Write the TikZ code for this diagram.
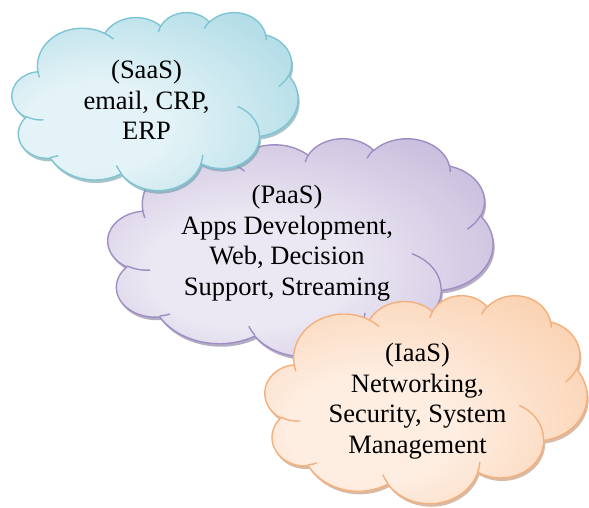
\documentclass[tikz,border=0pt]{standalone}
\usepackage{fontspec}
\setmainfont{Liberation Serif}
\usetikzlibrary{shadows}
\definecolor{saasL}{RGB}{228,243,247}
\definecolor{saasD}{RGB}{150,208,222}
\definecolor{saasO}{RGB}{126,197,212}
\definecolor{paasL}{RGB}{236,232,243}
\definecolor{paasD}{RGB}{178,162,207}
\definecolor{paasO}{RGB}{158,142,196}
\definecolor{iaasL}{RGB}{254,238,226}
\definecolor{iaasD}{RGB}{248,194,150}
\definecolor{iaasO}{RGB}{244,176,124}
\pgfdeclareradialshading{saasshade}{\pgfpoint{-12bp}{-8bp}}{color(0bp)=(saasL); color(12bp)=(saasL); color(48bp)=(saasD); color(75bp)=(saasD)}
\pgfdeclareradialshading{paasshade}{\pgfpoint{-8bp}{-6bp}}{color(0bp)=(paasL); color(12bp)=(paasL); color(48bp)=(paasD); color(75bp)=(paasD)}
\pgfdeclareradialshading{iaasshade}{\pgfpoint{-10bp}{-8bp}}{color(0bp)=(iaasL); color(12bp)=(iaasL); color(48bp)=(iaasD); color(75bp)=(iaasD)}
\tikzset{
  declare function={pa(\a,\b,\t)=atan2(\a*sin(\t),\b*cos(\t));
    pd(\a,\b,\t,\w)=pa(\a,\b,\t+\w)-pa(\a,\b,\t)+360*round((\w-pa(\a,\b,\t+\w)+pa(\a,\b,\t))/360);},
  cloudline/.style={line width=1.4pt, line join=round, line cap=round},
  lbl/.style={align=center, font=\fontsize{26.5}{30.5}\selectfont, inner sep=0pt, text=black},
}
\newcommand\oa[4]{arc[x radius=#1,y radius=#2,start angle={pa(#1,#2,#3)},delta angle={pd(#1,#2,#3,#4)}]}
\newcommand\cloudmain{(3.9,14.37) \oa{6.753}{9.19}{-190.4875}{123.7805} \oa{5.333}{7.267}{-144.1024}{89.9452} \oa{4.365}{5.945}{-145.8079}{99.7230} \oa{4.857}{6.595}{-130.9861}{117.2417} \oa{5.333}{7.273}{-78.7089}{109.0269} \oa{6.775}{9.22}{-46.2673}{130.269} \oa{5.785}{7.867}{0.625}{114.0333} \oa{6.752}{9.215}{22.4516}{115.1726} \oa{7.72}{10.543}{66.2426}{75.711} \oa{4.36}{5.918}{-274.9421}{146.7356} \oa{4.345}{5.945}{-246.8285}{152.5189} -- cycle}
\newcommand\cloudinner{(4.693,26.177) \oa{4.345}{5.945}{86.742}{26.4295} (6.928,34.899) \oa{4.36}{5.918}{73.6105}{11.4475} (16.478,39.09) \oa{6.752}{9.215}{137.6242}{14.0811} (28.827,34.751) \oa{6.752}{9.215}{6.4533}{15.9984} (34.129,22.954) \oa{5.785}{7.867}{-70.2924}{70.9174} (41.798,15.354) \oa{5.333}{7.273}{30.318}{27.7515} (38.324,5.426) \oa{4.857}{6.595}{-13.7443}{14.8589} (29.078,3.952) \oa{4.857}{6.595}{-149.1815}{18.1954} (22.141,4.72) \oa{4.365}{5.945}{-163.4943}{17.6864} (14,5.192) \oa{6.753}{9.19}{-66.707}{12.3194} (4.127,15.789) \oa{6.753}{9.19}{157.6544}{11.8582}}
\newcommand\ppcloud[7]{%
  \pgfmathsetmacro\cw{#3/43.2}\pgfmathsetmacro\ch{#4/43.2}%
  \begin{scope}[shift={(#1,#2)},x=\cw pt,y=-\ch pt]
    \path[shade, shading=#5, draw=#6, cloudline,
      drop shadow={shadow xshift=1.5pt,shadow yshift=-3pt,fill=#7,opacity=.55}] \cloudmain;
    \draw[#6, cloudline] \cloudinner;
  \end{scope}}
\begin{document}
\begin{tikzpicture}[x=1pt,y=-1pt]
\useasboundingbox (0,0) rectangle (589,507);
\ppcloud{108}{138}{385}{218}{paasshade}{paasO}{paasO!75!black}
\ppcloud{12}{12}{286}{178}{saasshade}{saasO}{saasO!75!black}
\ppcloud{265}{295}{322}{208}{iaasshade}{iaasO}{iaasO!75!black}
\node[lbl] (saas) at (146.5,100) {(SaaS)\\email, CRP,\\ERP};
\node[lbl] (paas) at (287,243) {(PaaS)\\Apps Development,\\Web, Decision\\Support, Streaming};
\node[lbl] (iaas) at (417.5,401) {(IaaS)\\Networking,\\Security, System\\Management};
\end{tikzpicture}
\end{document}
